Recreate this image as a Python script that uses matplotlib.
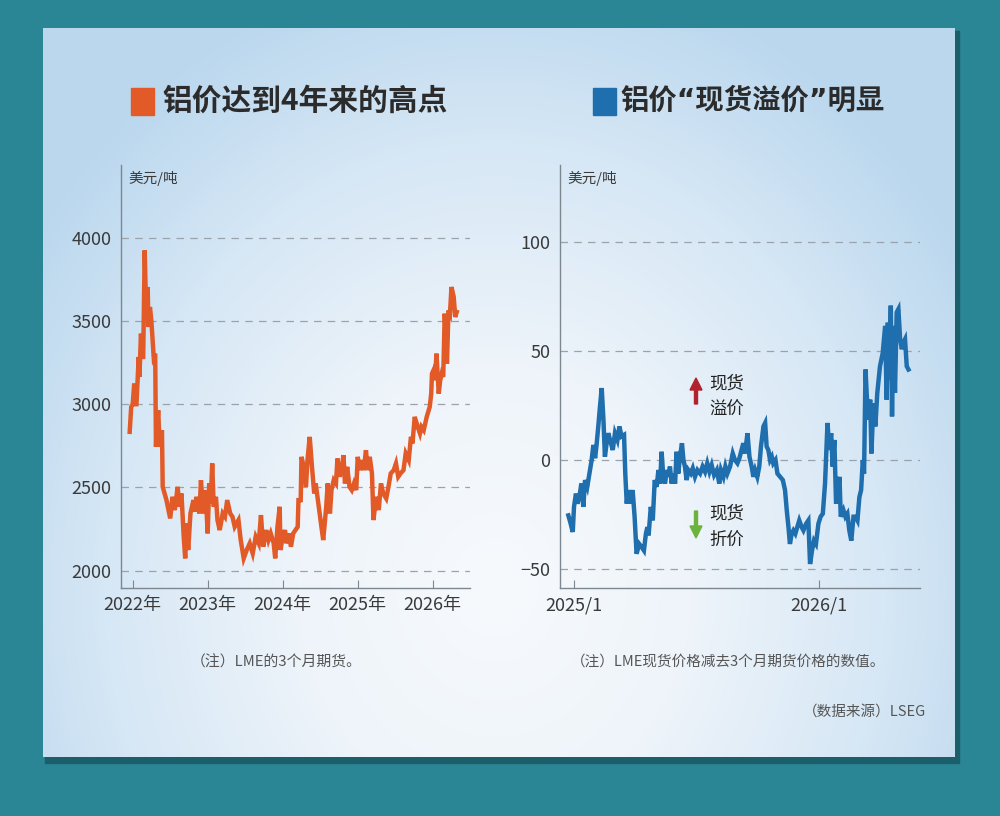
import matplotlib
matplotlib.use("Agg")
import matplotlib.pyplot as plt
import numpy as np
from matplotlib.colors import LinearSegmentedColormap
from matplotlib.patches import Rectangle, FancyArrow

plt.rcParams['font.family'] = ['Noto Sans CJK SC', 'DejaVu Sans']

# ---- data: LME aluminium 3-month futures (USD/t) ----
price_t = [2021.96, 2021.98, 2022.00, 2022.02, 2022.04, 2022.05, 2022.08, 2022.09,
           2022.11, 2022.13, 2022.14, 2022.16, 2022.18, 2022.20, 2022.21, 2022.23,
           2022.25, 2022.28, 2022.30, 2022.31, 2022.34, 2022.36, 2022.39, 2022.40,
           2022.45, 2022.50, 2022.53, 2022.56, 2022.60, 2022.62, 2022.65, 2022.68,
           2022.70, 2022.72, 2022.74, 2022.77, 2022.81, 2022.83, 2022.85, 2022.89,
           2022.91, 2022.94, 2022.97, 2023.00, 2023.02, 2023.04, 2023.06, 2023.08,
           2023.11, 2023.13, 2023.16, 2023.20, 2023.23, 2023.26, 2023.30, 2023.33,
           2023.36, 2023.41, 2023.44, 2023.48, 2023.52, 2023.56, 2023.60, 2023.64,
           2023.68, 2023.71, 2023.74, 2023.78, 2023.81, 2023.84, 2023.88, 2023.90,
           2023.93, 2023.96, 2023.97, 2024.00, 2024.03, 2024.05, 2024.08, 2024.11,
           2024.14, 2024.20, 2024.21, 2024.24, 2024.25, 2024.28, 2024.31, 2024.33,
           2024.36, 2024.39, 2024.42, 2024.44, 2024.48, 2024.51, 2024.54, 2024.58,
           2024.60, 2024.63, 2024.65, 2024.68, 2024.71, 2024.73, 2024.76, 2024.79,
           2024.81, 2024.83, 2024.86, 2024.89, 2024.92, 2024.95, 2024.98, 2025.00,
           2025.03, 2025.05, 2025.08, 2025.11, 2025.13, 2025.16, 2025.19, 2025.21,
           2025.23, 2025.25, 2025.28, 2025.31, 2025.34, 2025.38, 2025.41, 2025.44,
           2025.48, 2025.51, 2025.54, 2025.57, 2025.61, 2025.64, 2025.68, 2025.71,
           2025.73, 2025.76, 2025.80, 2025.83, 2025.85, 2025.88, 2025.92, 2025.96,
           2025.98, 2025.99, 2026.01, 2026.03, 2026.05, 2026.08, 2026.10, 2026.12,
           2026.14, 2026.16, 2026.19, 2026.21, 2026.23, 2026.25, 2026.28, 2026.30,
           2026.32]
price = [2834, 2984, 3000, 3124, 3000, 3000, 3284, 3164,
         3424, 3284, 3284, 3924, 3544, 3704, 3464, 3584,
         3494, 3284, 3304, 2744, 2964, 2744, 2844, 2504,
         2424, 2314, 2444, 2364, 2504, 2384, 2464, 2204,
         2074, 2284, 2124, 2344, 2424, 2354, 2444, 2344,
         2544, 2344, 2484, 2224, 2524, 2404, 2644, 2384,
         2444, 2304, 2244, 2344, 2324, 2424, 2344, 2324,
         2264, 2304, 2184, 2074, 2124, 2164, 2104, 2204,
         2164, 2334, 2144, 2244, 2184, 2224, 2164, 2074,
         2264, 2384, 2124, 2204, 2244, 2164, 2224, 2144,
         2224, 2264, 2424, 2424, 2684, 2624, 2504, 2664,
         2804, 2624, 2464, 2524, 2384, 2284, 2184, 2384,
         2524, 2344, 2484, 2544, 2524, 2674, 2564, 2624,
         2694, 2524, 2624, 2504, 2484, 2524, 2484, 2684,
         2604, 2664, 2604, 2724, 2604, 2684, 2584, 2304,
         2384, 2444, 2364, 2524, 2464, 2434, 2504, 2584,
         2604, 2644, 2564, 2584, 2604, 2704, 2664, 2804,
         2764, 2924, 2864, 2824, 2864, 2844, 2924, 2984,
         3064, 3184, 3204, 3144, 3304, 3064, 3144, 3184,
         3164, 3544, 3244, 3564, 3544, 3704, 3644, 3524,
         3554]

# ---- data: LME cash minus 3-month (USD/t) ----
spread_t = [2024.977, 2024.986, 2024.995, 2025.000, 2025.008, 2025.014, 2025.022, 2025.030,
            2025.038, 2025.045, 2025.054, 2025.063, 2025.072, 2025.079, 2025.086, 2025.092,
            2025.099, 2025.106, 2025.113, 2025.120, 2025.126, 2025.133, 2025.140, 2025.147,
            2025.158, 2025.167, 2025.177, 2025.185, 2025.194, 2025.204, 2025.209, 2025.215,
            2025.221, 2025.228, 2025.239, 2025.247, 2025.255, 2025.266, 2025.276, 2025.285,
            2025.293, 2025.299, 2025.304, 2025.313, 2025.321, 2025.329, 2025.337, 2025.344,
            2025.351, 2025.357, 2025.364, 2025.371, 2025.378, 2025.385, 2025.391, 2025.398,
            2025.405, 2025.412, 2025.418, 2025.425, 2025.432, 2025.440, 2025.446, 2025.452,
            2025.459, 2025.466, 2025.476, 2025.484, 2025.493, 2025.503, 2025.514, 2025.524,
            2025.534, 2025.543, 2025.552, 2025.561, 2025.571, 2025.582, 2025.592, 2025.599,
            2025.609, 2025.617, 2025.625, 2025.636, 2025.647, 2025.656, 2025.666, 2025.674,
            2025.683, 2025.690, 2025.697, 2025.707, 2025.715, 2025.724, 2025.731, 2025.738,
            2025.747, 2025.755, 2025.762, 2025.772, 2025.779, 2025.785, 2025.792, 2025.799,
            2025.806, 2025.812, 2025.821, 2025.829, 2025.840, 2025.851, 2025.860, 2025.867,
            2025.874, 2025.880, 2025.887, 2025.894, 2025.902, 2025.910, 2025.918, 2025.928,
            2025.935, 2025.946, 2025.955, 2025.962, 2025.970, 2025.978, 2025.986, 2025.996,
            2026.005, 2026.014, 2026.023, 2026.033, 2026.041, 2026.048, 2026.054, 2026.061,
            2026.068, 2026.075, 2026.082, 2026.087, 2026.098, 2026.106, 2026.114, 2026.122,
            2026.130, 2026.139, 2026.147, 2026.155, 2026.163, 2026.170, 2026.177, 2026.182,
            2026.188, 2026.194, 2026.201, 2026.207, 2026.212, 2026.220, 2026.228, 2026.236,
            2026.247, 2026.258, 2026.268, 2026.274, 2026.279, 2026.285, 2026.291, 2026.296,
            2026.302, 2026.308, 2026.315, 2026.322, 2026.329, 2026.336, 2026.342, 2026.349,
            2026.356, 2026.363]
spread = [-25.4, -29, -33, -21.5, -15.4, -20, -17, -10.8,
          -21.5, -9.2, -12.3, -6.2, 0, 6.9, 0.8, 6.9,
          15.4, 24.6, 33, 18.5, 1.5, 7.7, 12.3, 9.2,
          4.6, 12.3, 9.2, 15.4, 10.8, 11.5, -6.2, -20,
          -13.8, -20, -13.8, -26, -43, -38.5, -40, -41.5,
          -33.8, -30.8, -34.6, -21.5, -27.7, -9.2, -12.3, -4.6,
          -10.8, 3.8, -7.7, -10.8, -4.6, -7.7, -3, -10.8,
          -6.2, -10.8, 3.8, -6.2, 1.5, 7.7, 0, -3,
          -9.2, -4.6, -6.2, -3.8, -7.7, -4.6, -6.2, -3,
          -5.4, -1.5, -5.4, -2.3, -6.9, -4.6, -10.8, -4.6,
          -7.7, -3, -6.2, -3, 3, 0, -1.5, 0.8,
          4.6, 7.7, 3, 12.3, 1.5, -3, -7.7, -4.6,
          -7.7, -3, 6.2, 15.4, 17, 6.2, 4.6, 0,
          1.5, -1.5, 0, -6.2, -7.7, -9.2, -13.8, -23,
          -30.8, -38.5, -33.8, -32.3, -33.8, -30.8, -27.7, -30.8,
          -32.3, -29.2, -27.7, -47.7, -41.5, -37, -38.5, -29.2,
          -26, -24.6, -10.8, 17, 4.6, 12.3, -3, 9.2,
          -20, -15.4, -7.7, -26, -23, -26, -24.6, -32.3,
          -37, -26, -26, -27.7, -17, -13.8, 0, -6.2,
          41.5, 27.7, 18.5, 27.7, 3, 26, 15.4, 30.8,
          43, 49, 61.5, 27.7, 63, 37, 70.8, 20,
          61.5, 30.8, 67.7, 69.2, 55.4, 50.8, 53.8, 55.4,
          43, 41.5]

price_ticks = [2000, 2500, 3000, 3500, 4000]
price_years = [2022, 2023, 2024, 2025, 2026]
price_year_labels = ['2022年', '2023年', '2024年', '2025年', '2026年']
spread_ticks = [-50, 0, 50, 100]
spread_tick_labels = ['−50', '0', '50', '100']
spread_years = [2025, 2026]
spread_year_labels = ['2025/1', '2026/1']

ORANGE = '#e25a27'
BLUE = '#1f6eae'
TEXT = '#3a3a3a'
GRID = '#9aa3ab'
NUMFONT = ['Liberation Sans Narrow', 'Noto Sans CJK SC', 'DejaVu Sans']

W, H = 1000, 816
fig = plt.figure(figsize=(W / 100, H / 100), dpi=100)
fig.patch.set_facecolor('#2a8594')

def fx(px):
    return px / W

def fy(py):
    return 1 - py / H

# background: shadow + gradient panel, drawn in pixel coordinates
bg = fig.add_axes([0, 0, 1, 1], zorder=0)
bg.set_axis_off()
px0, px1, py0, py1 = 43, 955, 28, 757
bg.add_patch(Rectangle((px0 + 2, py0 + 3), px1 - px0 + 2, py1 - py0 + 3,
                       color='#1b5f6a', zorder=0))
yy, xx = np.mgrid[0:py1 - py0:4, 0:px1 - px0:4]
d = np.sqrt(((xx - 450) / 560.0) ** 2 + ((yy - 560) / 640.0) ** 2)
cmap = LinearSegmentedColormap.from_list(
    'bgc', [(0, '#f7fafd'), (0.35, '#eef4fa'), (0.7, '#d6e7f5'), (1.0, '#bad7ee')])
bg.imshow(np.clip(d, 0, 1), cmap=cmap, vmin=0, vmax=1, aspect='auto',
          extent=[px0, px1, py1, py0], interpolation='bilinear', zorder=1)
bg.set_xlim(0, W)
bg.set_ylim(H, 0)


def style_axes(ax):
    for s in ['top', 'right']:
        ax.spines[s].set_visible(False)
    for s in ['left', 'bottom']:
        ax.spines[s].set_color('#7d8790')
        ax.spines[s].set_linewidth(1.0)
    ax.set_facecolor('none')
    ax.tick_params(axis='y', length=0, pad=7, labelsize=13, labelcolor=TEXT)
    ax.tick_params(axis='x', direction='in', length=6, color='#7d8790',
                   pad=6, labelsize=13, labelcolor=TEXT)
    for lab in ax.get_xticklabels() + ax.get_yticklabels():
        lab.set_family(NUMFONT)
    ax.grid(axis='y', linestyle=(0, (6, 5)), color=GRID, linewidth=0.9)
    ax.set_axisbelow(True)


# ---- left chart ----
ax1 = fig.add_axes([fx(121), fy(588), fx(470 - 121), (588 - 165) / H], zorder=2)
ax1.plot(price_t, price, color=ORANGE, linewidth=3.2, solid_joinstyle='miter')
ax1.set_xlim(2021.844, 2026.497)
ax1.set_ylim(1896, 4437)
ax1.set_yticks(price_ticks)
ax1.set_xticks(price_years)
ax1.set_xticklabels(price_year_labels)
style_axes(ax1)
ax1.text(0.02, 0.985, '美元/吨', transform=ax1.transAxes, fontsize=10.5,
         color=TEXT, va='top', ha='left')

# ---- right chart ----
ax2 = fig.add_axes([fx(560), fy(588), fx(920 - 560), (588 - 165) / H], zorder=2)
ax2.plot(spread_t, spread, color=BLUE, linewidth=3.2, solid_joinstyle='miter')
ax2.set_xlim(2024.943, 2026.41)
ax2.set_ylim(-58.7, 135.3)
ax2.set_yticks(spread_ticks)
ax2.set_yticklabels(spread_tick_labels)
ax2.set_xticks(spread_years)
ax2.set_xticklabels(spread_year_labels)
style_axes(ax2)
ax2.text(0.02, 0.985, '美元/吨', transform=ax2.transAxes, fontsize=10.5,
         color=TEXT, va='top', ha='left')

# premium / discount markers
bg.add_patch(FancyArrow(696, 404, 0, -26, width=3, head_width=12, head_length=12,
                        length_includes_head=True, color='#b0222c', zorder=5))
bg.add_patch(FancyArrow(696, 511, 0, 27, width=3, head_width=12, head_length=12,
                        length_includes_head=True, color='#6cb33e', zorder=5))
fig.text(fx(709), fy(384), '现货', fontsize=12.5, color='#222222', va='center', ha='left', zorder=6)
fig.text(fx(709), fy(410), '溢价', fontsize=12.5, color='#222222', va='center', ha='left', zorder=6)
fig.text(fx(709), fy(513), '现货', fontsize=12.5, color='#222222', va='center', ha='left', zorder=6)
fig.text(fx(709), fy(540), '折价', fontsize=12.5, color='#222222', va='center', ha='left', zorder=6)

# ---- titles ----
bg.add_patch(Rectangle((131, 88), 23, 27, color=ORANGE, zorder=3))
fig.text(fx(162), fy(101), '铝价达到4年来的高点', fontsize=21.4, fontweight='bold',
         color='#2b2b2b', va='center', ha='left', zorder=6)
bg.add_patch(Rectangle((593, 88), 23, 27, color=BLUE, zorder=3))
fig.text(fx(620), fy(101), '铝价“现货溢价”明显', fontsize=20.4, fontweight='bold',
         color='#2b2b2b', va='center', ha='left', zorder=6,
         family=['DejaVu Sans', 'Noto Sans CJK SC'])

# ---- notes ----
fig.text(fx(276), fy(662), '（注）LME的3个月期货。', fontsize=10.7, color='#555555',
         va='center', ha='center', zorder=6)
fig.text(fx(571), fy(662), '（注）LME现货价格减去3个月期货价格的数值。', fontsize=10.5,
         color='#555555', va='center', ha='left', zorder=6)
fig.text(fx(926), fy(712), '（数据来源）LSEG', fontsize=10.5, color='#555555',
         va='center', ha='right', zorder=6)

fig.savefig('out.png', dpi=100, facecolor=fig.get_facecolor())
